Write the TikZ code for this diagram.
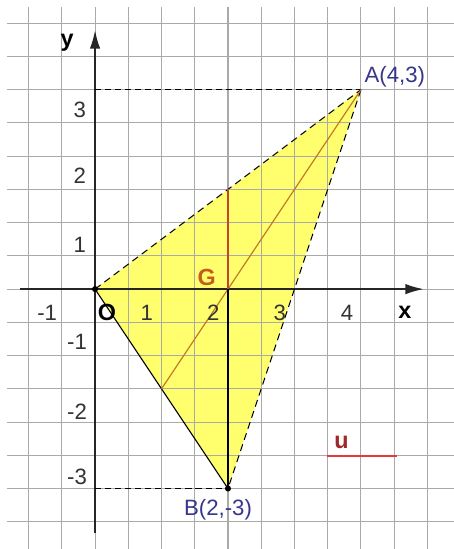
\documentclass[tikz,border=0pt]{standalone}
\usepackage{fontspec}
\setmainfont{Liberation Sans}
\usetikzlibrary{arrows.meta}

\definecolor{fillyel}{RGB}{255,255,110}
\definecolor{gridgray}{RGB}{170,170,170}
\definecolor{ptblue}{RGB}{55,55,140}
\definecolor{gorange}{RGB}{195,95,30}
\definecolor{medbrown}{RGB}{195,120,40}
\definecolor{medred}{RGB}{195,70,45}
\definecolor{ured}{RGB}{225,60,60}
\definecolor{udark}{RGB}{160,40,40}

\begin{document}
\begin{tikzpicture}[
    gridline/.style={draw=gridgray, line width=0.45pt},
    axis/.style={draw=black!85, line width=0.9pt, -{Latex[length=8pt,width=4.5pt]}},
    edge/.style={draw=black, line width=0.45pt},
    guide/.style={draw=black, line width=0.6pt, dash pattern=on 2.6pt off 1.7pt},
    median/.style={draw=medbrown, line width=0.5pt},
    tick/.style={font=\fontsize{9.5}{11}\selectfont, text=black!80},
    ptlabel/.style={font=\fontsize{9.5}{11}\selectfont, text=ptblue},
    dot/.style={circle, fill=black, inner sep=0pt, minimum size=2.6pt}
]

\useasboundingbox (-1.43,-3.91) rectangle (5.40,4.35);
\fill[white] (-1.43,-3.91) rectangle (5.40,4.35);

% Points
\coordinate (O)   at (0,0);
\coordinate (A)   at (4,3);
\coordinate (B)   at (2,-3);
\coordinate (G)   at (2,0);
\coordinate (mOA) at (2,1.5);
\coordinate (mOB) at (1,-1.5);
\coordinate (yA)  at (0,3);
\coordinate (yB)  at (0,-3);

% Triangle fill, grid on top
\fill[fillyel] (O) -- (A) -- (B) -- cycle;
\draw[gridline, step=0.5] (-1.32,-3.91) grid (5.40,4.24);

% Axes
\coordinate (xs) at (-1.13,0);
\coordinate (xe) at (4.95,0);
\coordinate (ys) at (0,-3.67);
\coordinate (ye) at (0,3.9);
\draw[axis] (xs) -- (xe);
\draw[axis] (ys) -- (ye);

% Dashed guides
\draw[guide] (yA) -- (A);
\draw[guide] (yB) -- (B);

% Triangle edges
\draw[edge, densely dashed] (O) -- (A);
\draw[edge, densely dashed] (A) -- (B);
\draw[edge] (O) -- (B);

% Medians
\draw[median] (A) -- (mOB);
\draw[edge, line width=0.6pt] (B) -- (G);
\draw[draw=medred, line width=0.8pt] (G) -- (mOA);

\node[dot] (dO) at (O) {};
\node[dot] (dB) at (B) {};

% Axis labels
\node[tick, font=\fontsize{10}{12}\selectfont\bfseries, text=black] (lx) at (4.66,-0.35) {x};
\node[tick, font=\fontsize{10}{12}\selectfont\bfseries, text=black] (ly) at (-0.42,3.70) {y};

% Ticks on x
\node[tick] (tm1) at (-0.72,-0.35) {-1};
\node[tick, font=\fontsize{10}{12}\selectfont\bfseries, text=black] (t0) at (0.18,-0.35) {O};
\node[tick] (t1)  at (0.78,-0.35) {1};
\node[tick] (t2)  at (1.78,-0.35) {2};
\node[tick] (t3)  at (2.78,-0.35) {3};
\node[tick] (t4)  at (3.79,-0.35) {4};

% Ticks on y
\node[tick] (s3)  at (-0.23,2.69)  {3};
\node[tick] (s2)  at (-0.23,1.70)  {2};
\node[tick] (s1)  at (-0.23,0.66)  {1};
\node[tick] (sm1) at (-0.27,-0.80) {-1};
\node[tick] (sm2) at (-0.27,-1.85) {-2};
\node[tick] (sm3) at (-0.27,-2.83) {-3};

% Point labels
\node[ptlabel] (lA) at (4.51,3.19)  {A(4,3)};
\node[ptlabel] (lB) at (1.85,-3.32) {B(2,-3)};
\node[font=\fontsize{10}{12}\selectfont\bfseries, text=gorange] (lG) at (1.68,0.18) {G};

% Unit
\coordinate (u1) at (3.49,-2.51);
\coordinate (u2) at (4.54,-2.51);
\draw[draw=ured, line width=0.8pt] (u1) -- (u2);
\node[font=\fontsize{10}{12}\selectfont\bfseries, text=udark] (lu) at (3.71,-2.30) {u};

\end{tikzpicture}
\end{document}
